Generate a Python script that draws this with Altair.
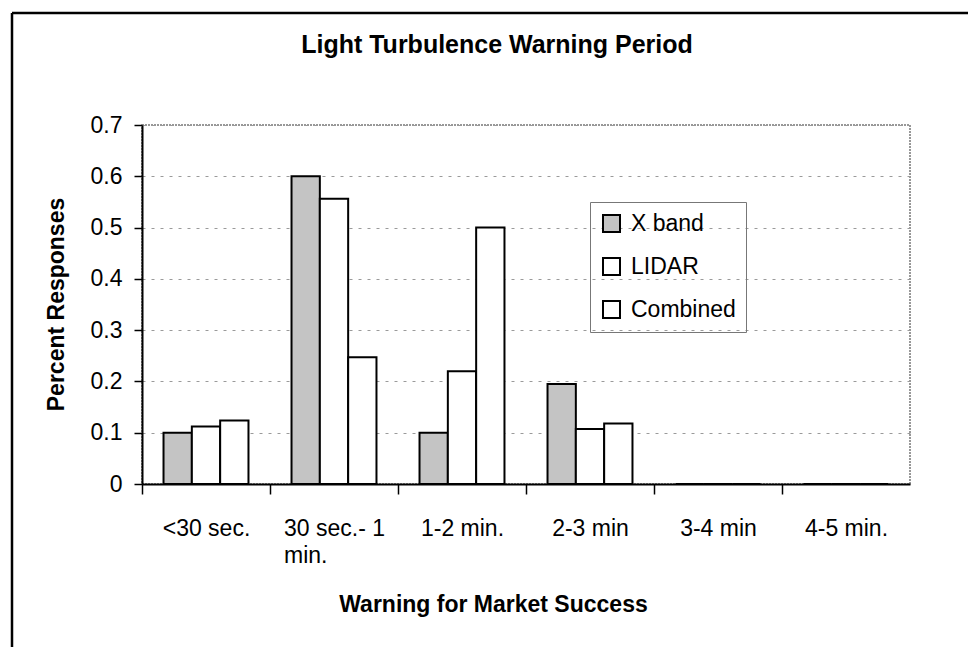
import altair as alt
import pandas as pd

categories = ["<30 sec.", "30 sec.- 1 min.", "1-2 min.", "2-3 min", "3-4 min", "4-5 min."]
series = ["X band", "LIDAR", "Combined"]
xband = [0.10, 0.60, 0.10, 0.195, 0.0, 0.0]
lidar = [0.112, 0.556, 0.22, 0.107, 0.0, 0.0]
combined = [0.124, 0.247, 0.50, 0.118, 0.0, 0.0]
y_ticks = [0.0, 0.1, 0.2, 0.3, 0.4, 0.5, 0.6, 0.7]
fills = ["#c4c4c4", "#ffffff", "#ffffff"]

rows = []
for name, vals in zip(series, [xband, lidar, combined]):
    for c, v in zip(categories, vals):
        rows.append({"category": c, "series": name, "value": v})
df = pd.DataFrame(rows)

FONT = "Liberation Sans"
W, H = 768, 359
PL, PT = 142, 125
TOTAL_W, TOTAL_H = 968, 647

pad = "\u00a0" * 9 + "\u200b"
label_expr = (
    "datum.label == '30 sec.- 1 min.' ? ['30 sec.- 1', 'min." + pad + "'] : datum.label"
)

bars = alt.Chart(df).mark_bar(stroke="black", strokeWidth=2).encode(
    x=alt.X(
        "category:N",
        sort=categories,
        scale=alt.Scale(paddingInner=0, paddingOuter=0),
        axis=alt.Axis(
            title="Warning for Market Success",
            labelAngle=0,
            labelExpr=label_expr,
            tickOffset=-W / 12,
            labelOffset=W / 12,
            tickSize=10,
            labelPadding=23,
            labelLineHeight=27,
            titleX=351,
            titleY=127,
            titleBaseline="alphabetic",
            titleAlign="center",
            grid=False,
        ),
    ),
    xOffset=alt.XOffset(
        "series:N", sort=series, scale=alt.Scale(paddingInner=0, paddingOuter=0.76)
    ),
    y=alt.Y(
        "value:Q",
        scale=alt.Scale(domain=[0, 0.7], nice=False, zero=True),
        axis=alt.Axis(
            title="Percent Responses",
            values=y_ticks,
            labelExpr="datum.value == 0 ? '0' : format(datum.value, '.1f')",
            tickSize=8,
            labelPadding=12,
            titleAngle=270,
            titleX=-79,
            titleY=179,
            titleBaseline="alphabetic",
            titleAlign="center",
            grid=True,
            gridColor="#9a9a9a",
            gridDash=[3, 6],
            gridWidth=1,
        ),
    ),
    fill=alt.Fill(
        "series:N",
        sort=series,
        scale=alt.Scale(domain=series, range=fills),
        legend=alt.Legend(
            title=None,
            orient="none",
            legendX=448,
            legendY=77,
            symbolType="square",
            symbolSize=289,
            symbolStrokeColor="black",
            symbolStrokeWidth=2,
            labelFontSize=23,
            labelFont=FONT,
            labelColor="black",
            labelOffset=8,
            rowPadding=18,
            padding=10,
            strokeColor="#777777",
        ),
    ),
)

one = pd.DataFrame({"k": [0]})
frame_v = alt.Chart(one).mark_rule(color="black", strokeWidth=2.5).encode(
    x=alt.value(12 - PL), y=alt.value(13 - PT), y2=alt.value(TOTAL_H - PT)
)
frame_h = alt.Chart(one).mark_rule(color="black", strokeWidth=2.5).encode(
    x=alt.value(12 - PL), x2=alt.value(TOTAL_W - PL), y=alt.value(13 - PT)
)

chart = (
    alt.layer(bars, frame_v, frame_h)
    .properties(
        width=W,
        height=H,
        title=alt.Title(
            "Light Turbulence Warning Period",
            fontSize=25,
            fontWeight="bold",
            font=FONT,
            color="black",
            anchor="middle",
            frame="group",
            dx=-29,
            offset=-66,
            baseline="alphabetic",
        ),
        autosize=alt.AutoSizeParams(type="none"),
        padding={"left": PL, "top": PT, "right": TOTAL_W - PL - W, "bottom": TOTAL_H - PT - H},
        background="white",
    )
    .configure_view(stroke="#777777", strokeWidth=1.5, strokeDash=[2, 1])
    .configure_axis(
        domainColor="black",
        domainWidth=2,
        tickColor="black",
        tickWidth=1.5,
        labelColor="black",
        labelFont=FONT,
        labelFontSize=23,
        titleFont=FONT,
        titleFontSize=23,
        titleFontWeight="bold",
        titleColor="black",
    )
)

chart.save("out.html", embed_options={"renderer": "svg", "actions": False})
